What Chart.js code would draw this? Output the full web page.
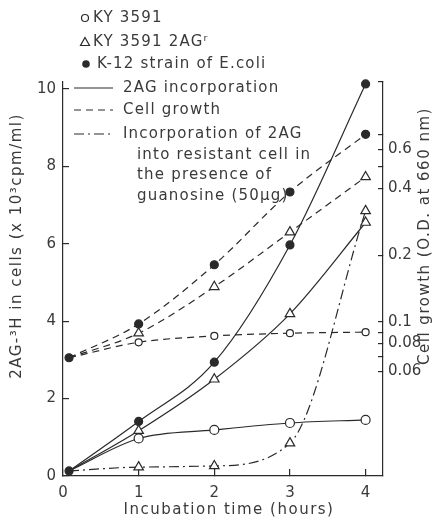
<!DOCTYPE html>
<html><head><meta charset="utf-8">
<script src="https://cdn.jsdelivr.net/npm/chart.js@4"></script>
<style>html,body{margin:0;padding:0;background:#fff}</style>
</head><body>
<canvas id="c" width="436" height="520"></canvas>
<script>
// ---- data ----
const hours = [0.08, 1, 2, 3, 4];
const xTickValues = [0, 1, 2, 3, 4];
const leftTickValues = [0, 2, 4, 6, 8, 10];
const rightTickValues = [0.06, 0.07, 0.08, 0.09, 0.1, 0.2, 0.4, 0.5, 0.6, 0.7];
const rightTickLabels = ['0.06', '', '0.08', '', '0.1', '0.2', '0.4', '', '0.6', ''];

// 2AG incorporation (x10^3 cpm/ml), left axis
const incKY3591 = [0.13, 0.97, 1.19, 1.37, 1.45];
const incKY3591r = [0.13, 1.17, 2.5, 4.19, 6.55];
const incK12 = [0.13, 1.41, 2.94, 5.97, 10.13];
// incorporation into resistant cell with guanosine (50 ug), left axis
const incGuanosine = [0.13, 0.23, 0.26, 0.85, 6.85];
// cell growth (O.D. at 660 nm), right log axis
const growthKY3591 = [0.069, 0.081, 0.0865, 0.089, 0.090];
const growthKY3591r = [0.069, 0.089, 0.144, 0.254, 0.45];
const growthK12 = [0.069, 0.098, 0.181, 0.385, 0.70];

const legendMarkers = ['KY 3591', 'KY 3591 2AGʳ', 'K-12 strain of E.coli'];
const legendLines = ['2AG incorporation', 'Cell growth', 'Incorporation of 2AG', 'into resistant cell in', 'the presence of', 'guanosine (50µg)'];
const leftTitle = '2AG-³H in cells (x 10³cpm/ml)';
const rightTitle = 'Cell growth (O.D. at 660 nm)';
const xTitle = 'Incubation time (hours)';

// ---- styles ----
const INK = '#2a2a2a';
const TXT = '#3a3a3a';
const FONT = '"DejaVu Sans", sans-serif';
const DASH = [7, 5];
const DASHDOT = [10, 4, 2, 4];

const pts = vals => hours.map((h, i) => ({x: h, y: vals[i]}));

function ds(vals, axis, style, fill, dash, radius, firstHidden) {
  return {
    data: pts(vals), yAxisID: axis, borderColor: INK, borderWidth: 1.2,
    borderDash: dash, cubicInterpolationMode: 'monotone', clip: false,
    pointStyle: style, pointBackgroundColor: fill, pointBorderColor: INK, pointBorderWidth: 1.2,
    pointRadius: hours.map((h, i) => (i === 0 && firstHidden) ? 0 : radius)
  };
}

const datasets = [
  ds(incK12, 'y', 'circle', INK, [], 4, false),
  ds(incKY3591r, 'y', 'triangle', '#fff', [], 5.5, true),
  ds(incKY3591, 'y', 'circle', '#fff', [], 4.5, true),
  ds(incGuanosine, 'y', 'triangle', '#fff', DASHDOT, 5.5, true),
  ds(growthK12, 'y2', 'circle', INK, DASH, 4, false),
  ds(growthKY3591r, 'y2', 'triangle', '#fff', DASH, 5.5, true),
  ds(growthKY3591, 'y2', 'circle', '#fff', DASH, 3.5, true)
];

const tickFont = {family: FONT, size: 15};

const overlay = {
  id: 'overlay',
  afterDraw(chart) {
    const ctx = chart.ctx;
    ctx.save();
    ctx.fillStyle = TXT;
    ctx.strokeStyle = INK;
    ctx.lineWidth = 1.2;
    ctx.font = '15px ' + FONT;
    ctx.letterSpacing = '1.2px';
    ctx.textBaseline = 'middle';
    ctx.textAlign = 'left';
    // marker legend
    const rowY = [18, 42, 64];
    // open circle
    ctx.beginPath(); ctx.arc(85, rowY[0], 3.5, 0, Math.PI * 2); ctx.fillStyle = '#fff'; ctx.fill(); ctx.stroke();
    // triangle
    ctx.beginPath(); ctx.moveTo(85, rowY[1] - 4.5); ctx.lineTo(89.5, rowY[1] + 3.5); ctx.lineTo(80.5, rowY[1] + 3.5); ctx.closePath(); ctx.stroke();
    // filled dot
    ctx.beginPath(); ctx.arc(86, rowY[2], 3.8, 0, Math.PI * 2); ctx.fillStyle = INK; ctx.fill();
    ctx.fillStyle = TXT;
    ctx.fillText(legendMarkers[0], 93, rowY[0]);
    ctx.fillText(legendMarkers[1], 93, rowY[1]);
    ctx.fillText(legendMarkers[2], 97, rowY[2]);
    // line legend
    const lineY = [88, 110, 134];
    const dashes = [[], DASH, DASHDOT];
    for (let i = 0; i < 3; i++) {
      ctx.setLineDash(dashes[i]);
      ctx.beginPath(); ctx.moveTo(74, lineY[i]); ctx.lineTo(113, lineY[i]); ctx.stroke();
      ctx.fillText(legendLines[i], 123, lineY[i]);
    }
    ctx.setLineDash([]);
    ctx.fillText(legendLines[3], 137, 155);
    ctx.fillText(legendLines[4], 137, 175);
    ctx.fillText(legendLines[5], 137, 196);
    // axis titles
    ctx.textAlign = 'center';
    ctx.letterSpacing = '1.5px';
    ctx.fillText(xTitle, 229, 510);
    ctx.save(); ctx.translate(17, 246); ctx.rotate(-Math.PI / 2); ctx.fillText(leftTitle, 0, 0); ctx.restore();
    ctx.save(); ctx.translate(425, 236); ctx.rotate(-Math.PI / 2); ctx.fillText(rightTitle, 0, 0); ctx.restore();
    ctx.restore();
  }
};

new Chart(document.getElementById('c'), {
  type: 'line',
  data: {datasets},
  options: {
    responsive: false, animation: false, devicePixelRatio: 1,
    layout: {padding: {top: 82, left: 0, right: 0, bottom: 0}},
    plugins: {legend: {display: false}, tooltip: {enabled: false}},
    scales: {
      x: {
        type: 'linear', min: 0, max: 4.23, position: 'bottom',
        grid: {drawOnChartArea: false, drawTicks: true, tickLength: -7, color: INK, lineWidth: 1.2},
        border: {color: INK, width: 1.2},
        ticks: {font: tickFont, color: TXT, padding: 15, maxRotation: 0},
        afterBuildTicks: s => { s.ticks = xTickValues.map(v => ({value: v})); },
        afterFit: s => { s.height = 44; }
      },
      y: {
        type: 'linear', min: 0, max: 10.18, position: 'left',
        grid: {drawOnChartArea: false, drawTicks: true, tickLength: -6, color: INK, lineWidth: 1.2},
        border: {color: INK, width: 1.2},
        ticks: {font: tickFont, color: TXT, padding: 13},
        afterBuildTicks: s => { s.ticks = leftTickValues.map(v => ({value: v})); },
        afterFit: s => { s.width = 63; }
      },
      y2: {
        type: 'logarithmic', min: 0.02024, max: 1.205, position: 'right',
        grid: {drawOnChartArea: false, drawTicks: true, tickLength: -5, color: INK, lineWidth: 1.2},
        border: {color: INK, width: 1.2},
        ticks: {
          font: tickFont, color: TXT, padding: 10,
          callback: function (v) { const i = rightTickValues.indexOf(v); return i >= 0 ? rightTickLabels[i] : ''; }
        },
        afterBuildTicks: s => { s.ticks = rightTickValues.map(v => ({value: v})).concat([{value: s.max}]); },
        afterFit: s => { s.width = 53; }
      }
    }
  },
  plugins: [overlay]
});
</script>
</body></html>
